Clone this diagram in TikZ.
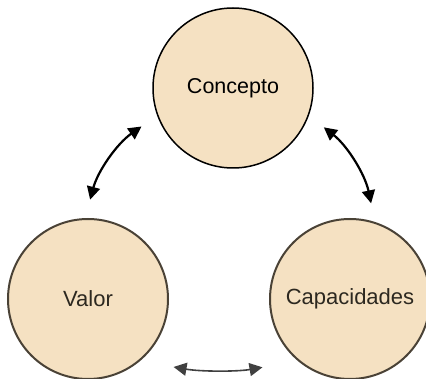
\documentclass[tikz,border=0pt]{standalone}
\usepackage{fontspec}
\setmainfont{Liberation Sans}
\usetikzlibrary{arrows.meta}
\definecolor{beige}{HTML}{F5E1C2}
\definecolor{browngrey}{HTML}{4A4236}
\begin{document}
\begin{tikzpicture}[x=1pt, y=-1pt,
    every node/.style={font=\fontsize{21.5}{25}\selectfont},
    bubble/.style={circle, draw, fill=beige, minimum size=160pt, inner sep=0pt, line width=1.5pt},
    softbubble/.style={bubble, draw=browngrey, line width=2pt, text=browngrey!60!black, font=\fontsize{22}{26}\selectfont},
    link/.style={<->, >={Triangle[length=13pt,width=13pt]}, line width=2.2pt, shorten <=19pt, shorten >=19pt}]
    \useasboundingbox (0,0) rectangle (426,379);
    \node[bubble] (concepto) at (233,88) {Concepto};
    \node[softbubble] (valor) at (88,299) {Valor};
    \node[softbubble] (capacidades) at (350,299) {Capacidades};

    \draw[link] (concepto.200) to[bend right=20] (valor.92);
    \draw[link] (concepto.340) to[bend left=20] (capacidades.72);
    \draw[link, line width=1.6pt, draw=black!75, shorten <=34pt, shorten >=36pt] (valor.-50) to[bend right=10] (capacidades.230);
\end{tikzpicture}
\end{document}
